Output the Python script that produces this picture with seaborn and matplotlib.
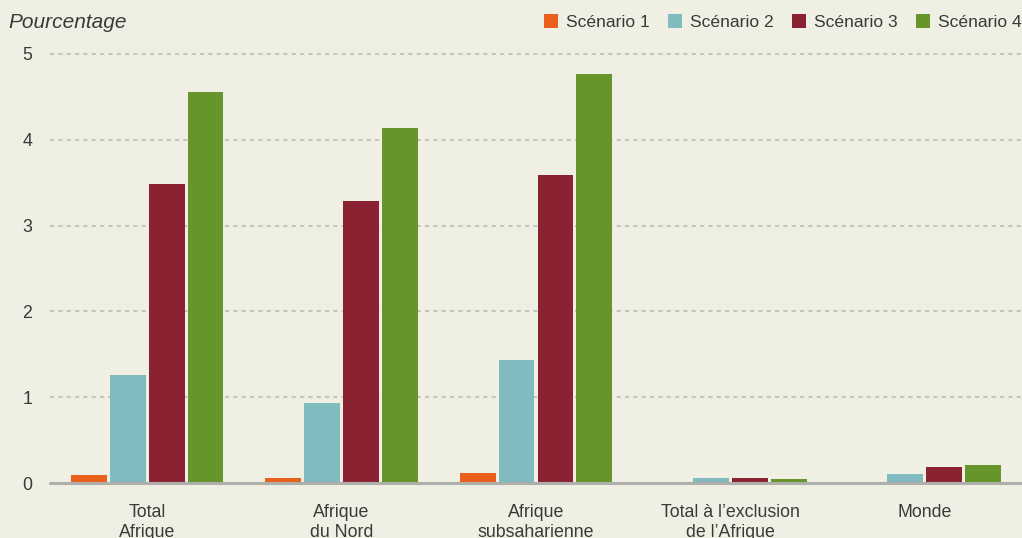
import matplotlib.pyplot as plt
import seaborn as sns
import pandas as pd

regions = ["Total\nAfrique", "Afrique\ndu Nord", "Afrique\nsubsaharienne",
           "Total à l’exclusion\nde l’Afrique", "Monde"]
scenarios = ["Scénario 1", "Scénario 2", "Scénario 3", "Scénario 4"]
s1 = [0.10, 0.06, 0.12, 0.01, 0.01]
s2 = [1.26, 0.93, 1.43, 0.06, 0.11]
s3 = [3.48, 3.29, 3.59, 0.06, 0.19]
s4 = [4.55, 4.14, 4.77, 0.05, 0.21]
colors = ["#E8601C", "#7FBBBF", "#8A2232", "#66962B"]

rows = []
for name, vals in zip(scenarios, [s1, s2, s3, s4]):
    for r, v in zip(regions, vals):
        rows.append({"region": r, "scenario": name, "value": v})
df = pd.DataFrame(rows)

bg = "#EFF0E3"
sns.set_style("white")
plt.rcParams['font.family'] = ['Liberation Sans', 'DejaVu Sans']

fig = plt.figure(figsize=(10.22, 5.38), dpi=100, facecolor=bg)
ax = fig.add_axes([0.049, 0.102, 0.951, 0.798])
ax.set_facecolor(bg)

sns.barplot(data=df, x="region", y="value", hue="scenario", palette=colors,
            width=0.8, gap=0.08, saturation=1, linewidth=0, ax=ax, legend=True, zorder=3)

ax.set_ylim(0, 5)
ax.set_xlim(-0.5, 4.5)
ax.set_yticks([0, 1, 2, 3, 4, 5])
for y in [1, 2, 3, 4, 5]:
    ax.axhline(y, color="#BDBDB6", lw=1.2, ls=(0, (2.5, 2.5)), zorder=1, clip_on=False)
ax.axhline(0, color="#AEAEAA", lw=2.2, zorder=4, clip_on=False)

for s in ax.spines.values():
    s.set_visible(False)
ax.tick_params(length=0, labelsize=12.8, colors="#3A3A3A")
ax.tick_params(axis="y", pad=13)
ax.tick_params(axis="x", pad=15)
ax.set_xlabel("")
ax.set_ylabel("")
for lab in ax.get_xticklabels():
    lab.set_linespacing(1.25)

fig.text(0.008, 0.959, "Pourcentage", fontsize=15, style="italic", color="#3A3A3A", va="center")

handles, labels = ax.get_legend_handles_labels()
ax.legend(handles, labels, loc="center right", bbox_to_anchor=(1.0, 1.074), ncol=4,
          frameon=False, fontsize=12.6, handlelength=0.8, handleheight=0.8,
          handletextpad=0.5, columnspacing=1.0, labelcolor="#3A3A3A", borderaxespad=0,
          borderpad=0)

fig.savefig("out.png", dpi=100, facecolor=bg)
